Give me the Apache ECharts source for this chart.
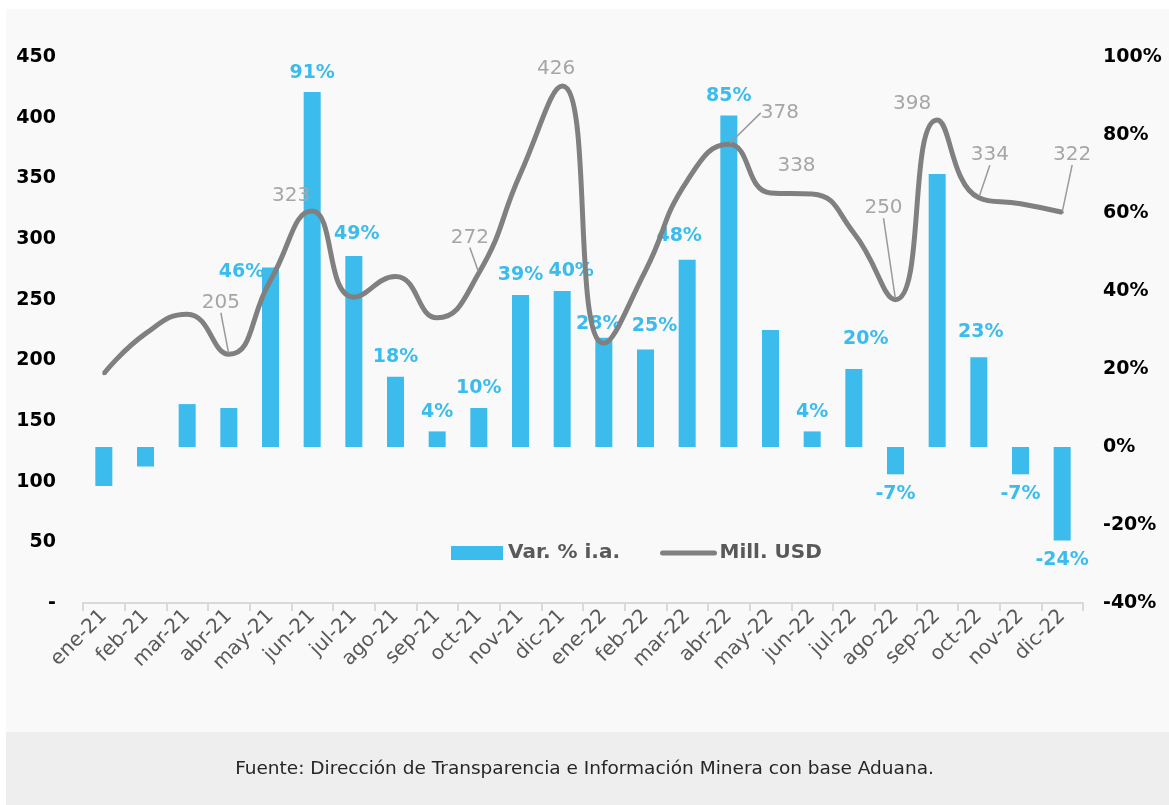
<!DOCTYPE html>
<html>
<head>
<meta charset="utf-8">
<script src="https://cdn.jsdelivr.net/npm/echarts@6/dist/echarts.min.js"></script>
<style>
  html, body { margin: 0; padding: 0; background: #fff; }
  #chart { width: 1169px; height: 805px; }
</style>
</head>
<body>
<div id="chart"></div>
<script>
const months = ['ene-21', 'feb-21', 'mar-21', 'abr-21', 'may-21', 'jun-21', 'jul-21', 'ago-21', 'sep-21', 'oct-21', 'nov-21', 'dic-21',
  'ene-22', 'feb-22', 'mar-22', 'abr-22', 'may-22', 'jun-22', 'jul-22', 'ago-22', 'sep-22', 'oct-22', 'nov-22', 'dic-22']
// variacion interanual (%)
const varPct = [-10, -5, 11, 10, 46, 91, 49, 18, 4, 10, 39, 40, 28, 25, 48, 85, 30, 4, 20, -7, 70, 23, -7, -24]
// millones de USD
const millUsd = [189, 222, 238, 205, 266, 323, 252, 269, 235, 272, 354, 426, 214, 274, 348, 378, 338, 337, 305, 250, 398, 334, 329, 322]
// etiquetas visibles
const varLabelShown = [0, 0, 0, 0, 1, 1, 1, 1, 1, 1, 1, 1, 1, 1, 1, 1, 0, 1, 1, 1, 0, 1, 1, 1]
const usdLabelShown = [0, 0, 0, 1, 0, 1, 0, 0, 0, 1, 0, 1, 0, 0, 0, 1, 1, 0, 0, 1, 1, 1, 0, 1]
const usdLeader = [0, 0, 0, 1, 0, 0, 0, 0, 0, 1, 0, 0, 0, 0, 0, 1, 0, 0, 0, 1, 0, 1, 0, 1]
const leftTicks = { min: 0, max: 450, interval: 50 }
const rightTicks = { min: -40, max: 100, interval: 20 }

// desplazamientos de etiquetas (px), solo estilo
const usdLabelShift = {
  3: [-8, -35], 5: [-21, 1], 9: [-9, -19], 11: [-6, -1], 15: [51, -15],
  16: [26, -11], 19: [-12, -75], 20: [-25, 0], 21: [11, -26], 23: [10, -41]
}
const varLabelShift = { 4: [-29, 24], 6: [3, -2], 11: [9, 0], 12: [-5, 6], 13: [9, -4], 14: [-8, -4], 18: [12, -10], 21: [2, -6] }

const blue = '#3bbcec'
const grey = '#808080'
const font = '"DejaVu Sans", sans-serif'

const chart = echarts.init(document.getElementById('chart'))

const barData = varPct.map((v, i) => {
  const sh = varLabelShift[i] || [0, 0]
  return {
    value: v,
    label: {
      show: !!varLabelShown[i],
      position: v < 0 ? 'bottom' : 'top',
      offset: sh
    }
  }
})

const lineData = millUsd.map((v, i) => ({
  value: v,
  label: { show: !!usdLabelShown[i] },
  labelLine: { show: !!usdLeader[i] }
}))

const option = {
  backgroundColor: '#ffffff',
  animation: false,
  textStyle: { fontFamily: font },
  graphic: [
    { type: 'rect', z: -10, shape: { x: 6, y: 9, width: 1163, height: 723 }, style: { fill: '#f9f9f9' } },
    { type: 'rect', z: -10, shape: { x: 6, y: 732, width: 1163, height: 73 }, style: { fill: '#eeeeee' } },
    {
      type: 'text', left: 'center', top: 760, z: 10,
      style: {
        text: 'Fuente: Dirección de Transparencia e Información Minera con base Aduana.',
        fill: '#262626', font: '18.5px "DejaVu Sans", sans-serif'
      }
    }
  ],
  grid: { left: 83, right: 86, top: 57, bottom: 202 },
  legend: {
    left: 446, top: 538,
    itemWidth: 52, itemHeight: 14, itemGap: 40,
    textStyle: { color: '#595959', fontSize: 20, fontWeight: 'bold', fontFamily: font },
    data: [
      { name: 'Var. % i.a.', icon: 'rect' },
      { name: 'Mill. USD', itemStyle: { opacity: 0 }, lineStyle: { width: 5, cap: 'round', color: grey } }
    ]
  },
  xAxis: {
    type: 'category',
    data: months,
    axisLine: { lineStyle: { color: '#d9d9d9', width: 2 } },
    axisTick: { show: true, length: 8, lineStyle: { color: '#d9d9d9', width: 2 } },
    axisLabel: { rotate: 45, color: '#595959', fontSize: 20, margin: 10, interval: 0 }
  },
  yAxis: [
    {
      type: 'value', min: leftTicks.min, max: leftTicks.max, interval: leftTicks.interval,
      splitLine: { show: false }, axisLine: { show: false }, axisTick: { show: false },
      axisLabel: {
        color: '#000', fontSize: 19, fontWeight: 'bold', margin: 27,
        formatter: v => v === 0 ? '-' : String(v)
      }
    },
    {
      type: 'value', min: rightTicks.min, max: rightTicks.max, interval: rightTicks.interval,
      splitLine: { show: false }, axisLine: { show: false }, axisTick: { show: false },
      axisLabel: {
        color: '#000', fontSize: 19, fontWeight: 'bold', margin: 20,
        formatter: v => v + '%'
      }
    }
  ],
  series: [
    {
      name: 'Var. % i.a.',
      type: 'bar',
      yAxisIndex: 1,
      barWidth: 17,
      itemStyle: { color: blue },
      label: {
        color: blue, fontSize: 19, fontWeight: 'bold', distance: 10,
        formatter: p => p.value + '%'
      },
      data: barData
    },
    {
      name: 'Mill. USD',
      type: 'line',
      yAxisIndex: 0,
      smooth: 0.5,
      symbol: 'circle',
      symbolSize: 3,
      z: 5,
      itemStyle: { color: grey },
      lineStyle: { color: grey, width: 5 },
      label: {
        position: 'top', distance: 5,
        color: '#a6a6a6', fontSize: 20
      },
      labelLine: { show: false, lineStyle: { color: '#9a9a9a', width: 1.5 } },
      labelLayout: params => {
        const sh = usdLabelShift[params.dataIndex]
        return sh ? { dx: sh[0], dy: sh[1] } : {}
      },
      data: lineData
    }
  ]
}

chart.setOption(option)
</script>
</body>
</html>
